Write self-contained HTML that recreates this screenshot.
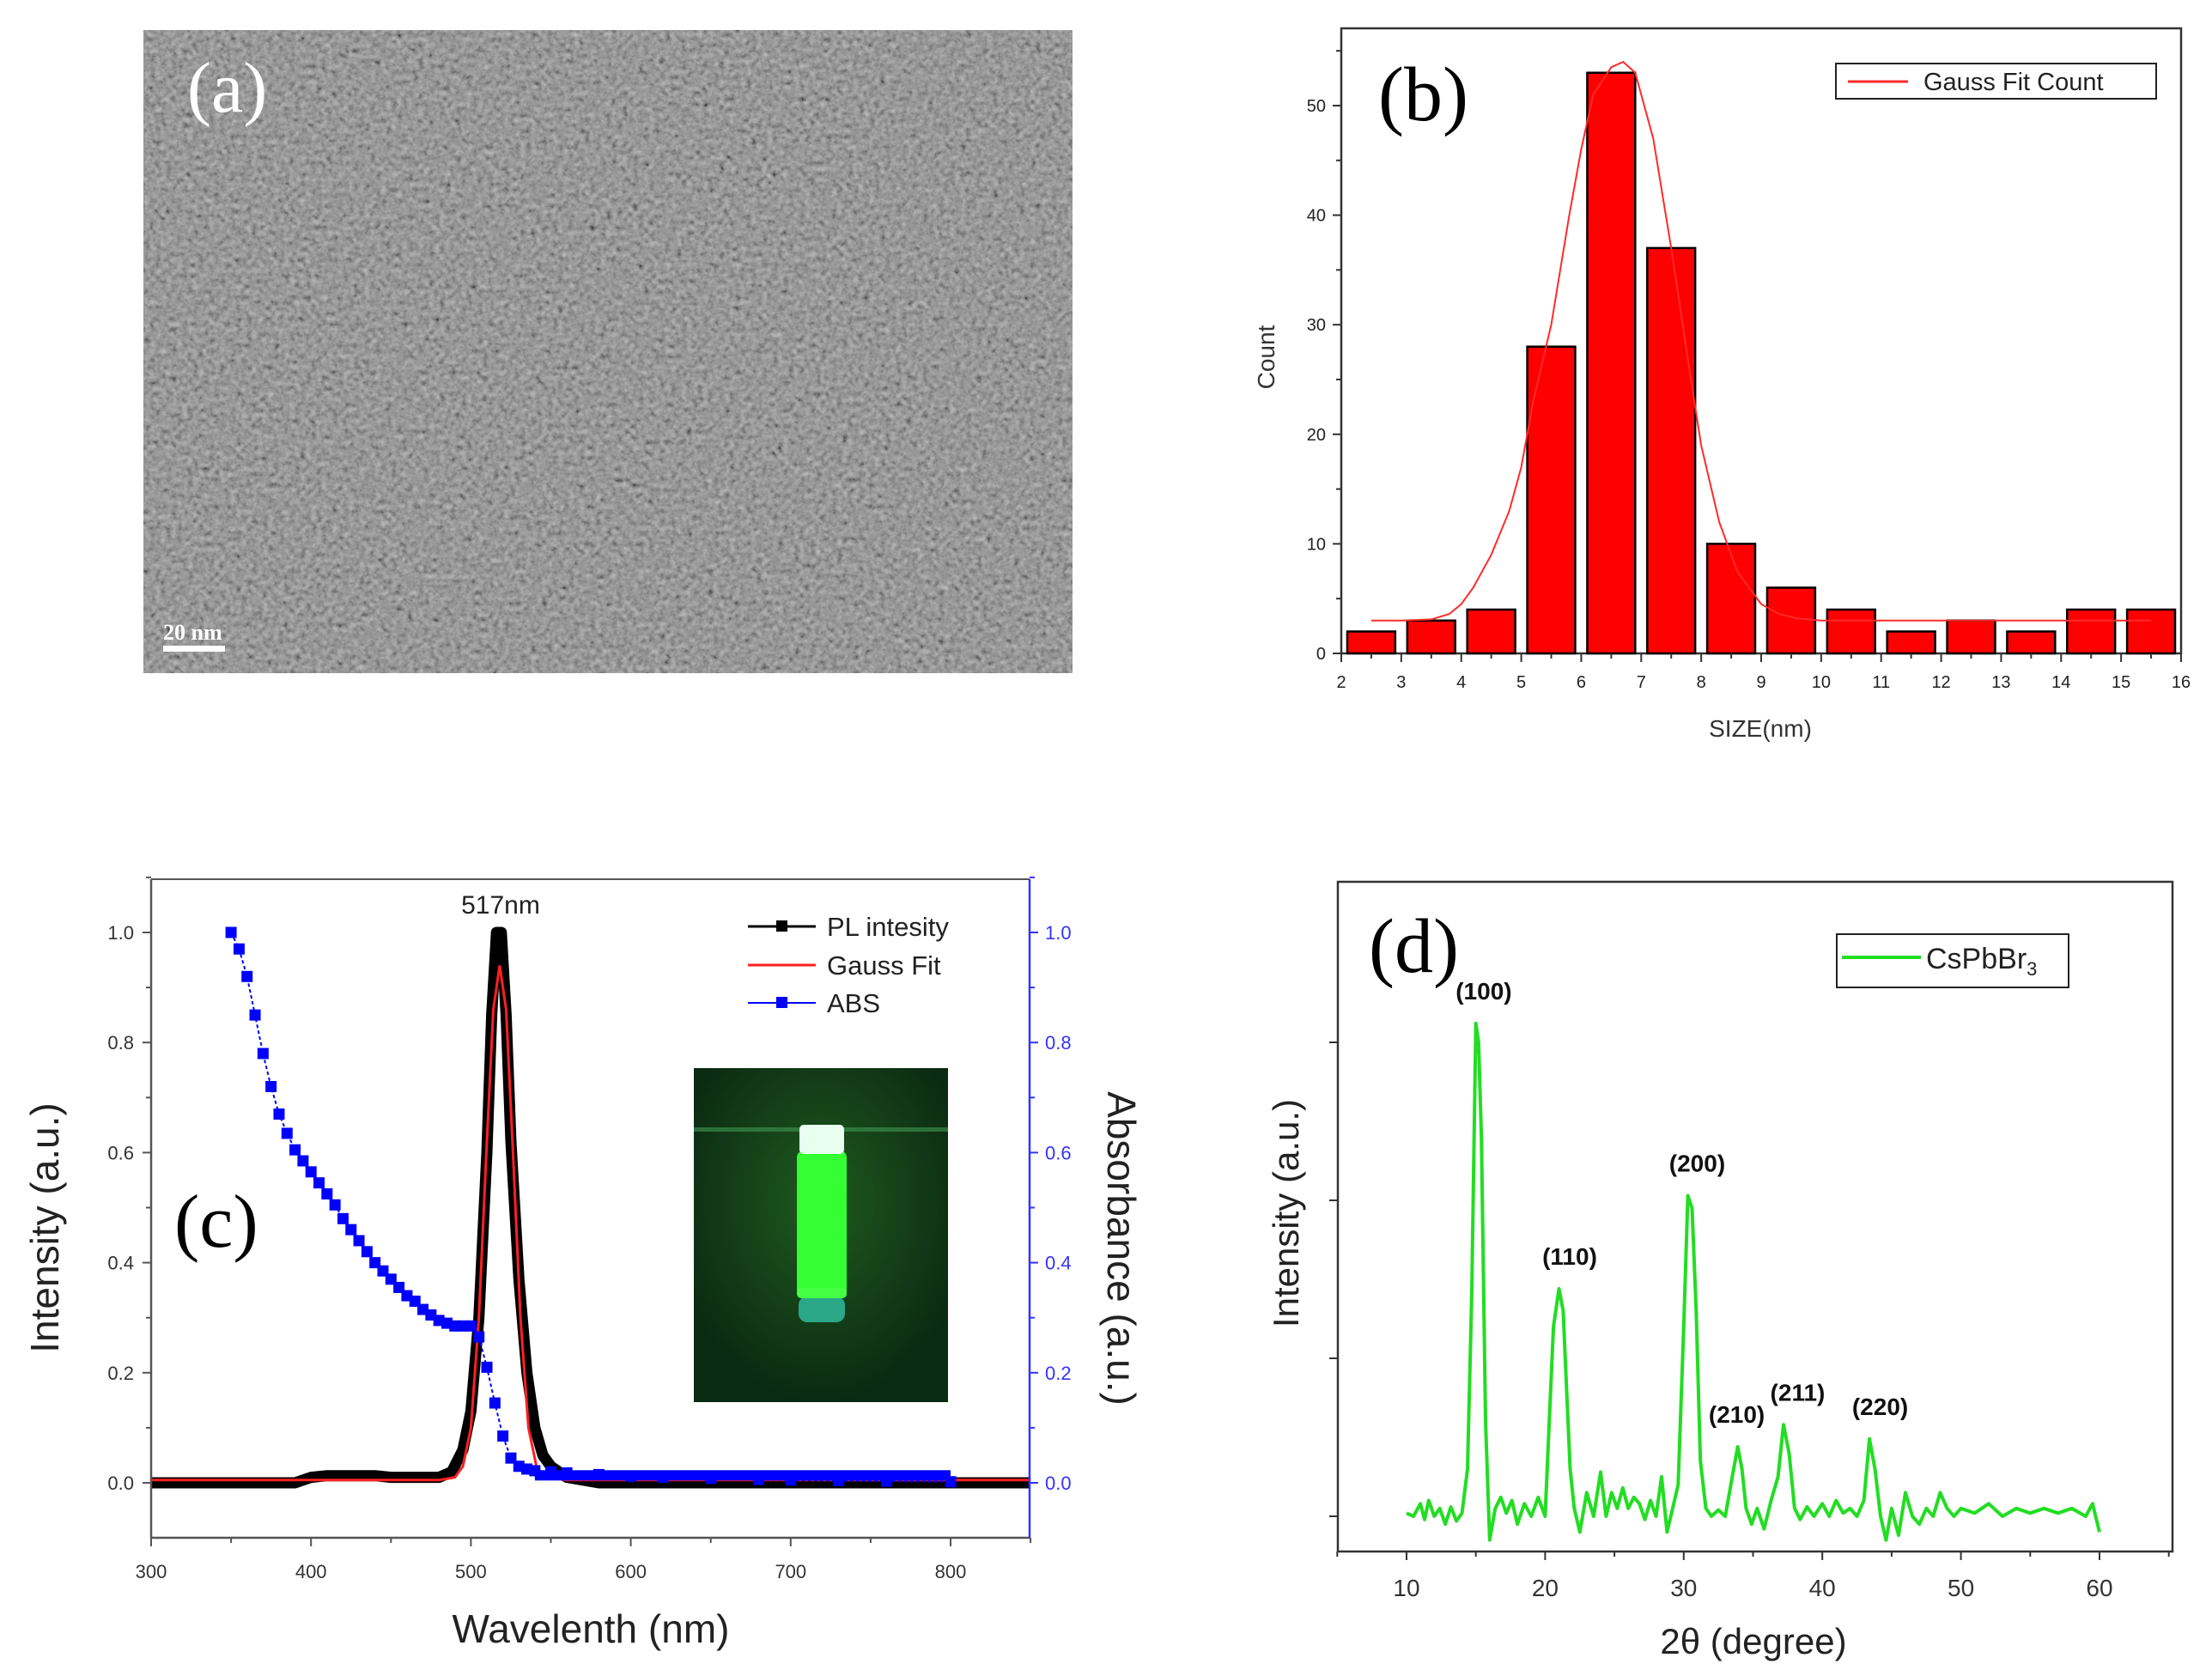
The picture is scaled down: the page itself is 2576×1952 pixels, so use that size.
<!DOCTYPE html>
<html><head><meta charset="utf-8">
<style>
html,body{margin:0;padding:0;background:#fff;overflow:hidden;}
svg{display:block;font-family:"Liberation Sans",sans-serif;}
</style></head>
<body>
<svg id="fig" width="2576" height="1952" viewBox="0 0 2576 1952" xmlns="http://www.w3.org/2000/svg">
<defs>
<filter id="tem" x="0" y="0" width="100%" height="100%">
<feTurbulence type="fractalNoise" baseFrequency="0.16" numOctaves="3" seed="4"/>
<feColorMatrix type="matrix" values="0.33 0.33 0.33 0 0  0.33 0.33 0.33 0 0  0.33 0.33 0.33 0 0  0 0 0 0 1"/>
<feComponentTransfer><feFuncR type="linear" slope="1.8" intercept="-0.4"/><feFuncG type="linear" slope="1.8" intercept="-0.4"/><feFuncB type="linear" slope="1.8" intercept="-0.4"/></feComponentTransfer>
</filter>
<radialGradient id="glow" cx="50%" cy="40%" r="60%"><stop offset="0" stop-color="#1f5a1f"/><stop offset="1" stop-color="#0b2a12"/></radialGradient>
</defs>
<g id="panel-a">
<rect x="167" y="35" width="1082" height="749" fill="#767676"/>
<rect x="167" y="35" width="1082" height="749" filter="url(#tem)" opacity="0.5"/>
<text x="218" y="130" font-family="Liberation Serif,serif" font-size="84" fill="#fff">(a)</text>
<text x="190" y="745" font-family="Liberation Serif,serif" font-size="26" font-weight="bold" fill="#fff">20 nm</text>
<rect x="190" y="752" width="72" height="7" fill="#fff"/>
</g>
<g id="gb"></g><g id="gc"></g><g id="gd"></g>
</svg>
<script>
// ---- panel b data ----
const binStarts=[2,3,4,5,6,7,8,9,10,11,12,13,14,15];
const counts=[2,3,4,28,53,37,10,6,4,2,3,2,4,4];
const fitX=[2.5,3,3.5,3.8,4,4.2,4.5,4.8,5,5.2,5.5,5.8,6,6.2,6.5,6.7,6.9,7.2,7.5,7.8,8,8.3,8.6,9,9.3,9.6,10,11,12,13,14,15,15.5];
const fitY=[3,3,3.1,3.6,4.5,6,9,13,17,23,30,40,46,51,53.5,54,53,47,37,26,19,12,7.5,4.5,3.6,3.2,3,3,3,3,3,3,3];
const bXTicks=[2,3,4,5,6,7,8,9,10,11,12,13,14,15,16];
const bYTicks=[0,10,20,30,40,50];
// ---- panel c data ----
const plX=[300,390,400,410,440,450,480,488,495,500,505,510,513,516,519,522,525,530,535,540,545,550,560,580,850];
const plY=[0,0,0.01,0.013,0.013,0.01,0.01,0.02,0.06,0.13,0.3,0.6,0.85,1.0,1.0,0.85,0.62,0.37,0.2,0.1,0.05,0.03,0.01,0,0];
const gfX=[300,480,490,495,500,505,510,514,518,522,526,531,536,541,546,560,850];
const gfY=[0.005,0.005,0.01,0.03,0.1,0.3,0.62,0.86,0.94,0.86,0.62,0.3,0.1,0.03,0.01,0.005,0.005];
const absX=[350,355,360,365,370,375,380,385,390,395,400,405,410,415,420,425,430,435,440,445,450,455,460,465,470,475,480,485,490,495,500,505,510,515,520,525,530,535,540,550,560,580,600,620,650,680,700,730,760,800];
const absY=[1.0,0.97,0.92,0.85,0.78,0.72,0.67,0.635,0.605,0.585,0.565,0.545,0.525,0.505,0.48,0.46,0.44,0.42,0.40,0.385,0.37,0.355,0.34,0.33,0.315,0.305,0.295,0.29,0.285,0.285,0.285,0.265,0.21,0.145,0.085,0.045,0.03,0.025,0.022,0.02,0.018,0.015,0.012,0.01,0.008,0.006,0.005,0.004,0.003,0.002];
const cXTicks=[300,400,500,600,700,800];
const cYTicks=[0.0,0.2,0.4,0.6,0.8,1.0];
// ---- panel d data ----
const xrdX=[10,10.5,11,11.3,11.6,12,12.4,12.8,13.2,13.6,14,14.4,14.7,15,15.2,15.4,15.7,16,16.4,16.8,17.2,17.6,18,18.5,19,19.5,20,20.3,20.6,21,21.3,21.5,21.8,22.1,22.5,23,23.5,24,24.4,24.8,25.2,25.6,26,26.4,26.8,27.2,27.6,28,28.4,28.8,29.2,29.6,30,30.3,30.6,30.9,31.2,31.6,32,32.5,33,33.5,33.9,34.2,34.5,34.9,35.3,35.8,36.3,36.8,37.2,37.6,38,38.4,38.9,39.4,40,40.5,41,41.5,42,42.5,43,43.4,43.8,44.2,44.6,45,45.5,46,46.5,47,47.5,48,48.5,49,49.5,50,51,52,53,54,55,56,57,58,59,59.5,60];
const xrdY=[0.02,0.0,0.08,-0.02,0.1,0.0,0.05,-0.05,0.06,-0.03,0.02,0.3,1.4,3.12,3.0,2.4,0.6,-0.15,0.05,0.12,0.02,0.1,-0.05,0.08,0.0,0.12,0.0,0.6,1.2,1.44,1.3,0.9,0.3,0.05,-0.1,0.15,0.0,0.28,0.0,0.15,0.05,0.18,0.05,0.12,0.08,-0.02,0.1,0.0,0.25,-0.1,0.05,0.2,1.2,2.03,1.95,1.3,0.35,0.05,0.0,0.04,0.0,0.25,0.44,0.3,0.05,-0.05,0.05,-0.08,0.1,0.25,0.58,0.4,0.05,-0.02,0.06,0.0,0.08,0.0,0.1,0.02,0.05,0.0,0.1,0.49,0.3,0.0,-0.15,0.05,-0.12,0.15,0.0,-0.05,0.05,0.0,0.15,0.05,0.0,0.05,0.02,0.08,0.0,0.05,0.02,0.05,0.02,0.05,0.0,0.08,-0.1];
const dXTicks=[10,20,30,40,50,60];
const dYTicks=[0,1,2,3];
const peakLabels=["(100)","(110)","(200)","(210)","(211)","(220)"];
const peakPos=[15.2,21.4,30.6,34.2,37.6,43.8];
const peakH=[3.12,1.44,2.03,0.44,0.58,0.49];

const NS="http://www.w3.org/2000/svg";
function mk(parent,tag,attrs,name){
  const el=document.createElementNS(NS,tag);
  for(const k in attrs) el.setAttribute(k,attrs[k]);
  
  
  parent.appendChild(el); return el;
}
function txt(parent,x,y,s,size,attrs,name){
  const a=Object.assign({x:x,y:y,'font-size':size},attrs||{});
  const t=mk(parent,'text',a,name); t.textContent=s; return t;
}
function pathOf(xs,ys,sx,sy){return xs.map((v,i)=>(i?'L':'M')+sx(v).toFixed(1)+' '+sy(ys[i]).toFixed(1)).join(' ');}

// ===== Panel b =====
(function(){
  const g=document.getElementById('gb');
  const L=1562,R=2540,T=33,B=761;
  const sx=v=>L+(v-2)/14*(R-L), sy=v=>B-v*12.76;
  mk(g,'rect',{x:L,y:T,width:R-L,height:B-T,fill:'none',stroke:'#333','stroke-width':2.5},'plot-frame-b');
  binStarts.forEach((b,i)=>{
    mk(g,'rect',{x:sx(b+0.1),y:sy(counts[i]),width:sx(b+0.9)-sx(b+0.1),height:B-sy(counts[i]),fill:'#ff0000',stroke:'#000','stroke-width':2.5},'histogram-bar');
  });
  mk(g,'path',{d:pathOf(fitX,fitY,sx,sy),fill:'none',stroke:'#ff2a2a','stroke-width':2},'gauss-fit-line');
  bXTicks.forEach(v=>{
    mk(g,'line',{x1:sx(v),y1:B,x2:sx(v),y2:B+10,stroke:'#333','stroke-width':2},'x-tick');
    if(v<16) mk(g,'line',{x1:sx(v+0.5),y1:B,x2:sx(v+0.5),y2:B+6,stroke:'#333','stroke-width':2},'x-minor-tick');
    txt(g,sx(v),B+40,String(v),20,{'text-anchor':'middle',fill:'#222'},'x-tick-label');
  });
  bYTicks.forEach(v=>{
    mk(g,'line',{x1:L,y1:sy(v),x2:L-10,y2:sy(v),stroke:'#333','stroke-width':2},'y-tick');
    mk(g,'line',{x1:L,y1:sy(v+5),x2:L-6,y2:sy(v+5),stroke:'#333','stroke-width':2},'y-minor-tick');
    txt(g,L-18,sy(v)+7,String(v),20,{'text-anchor':'end',fill:'#222'},'y-tick-label');
  });
  txt(g,1605,140,'(b)',90,{'font-family':'Liberation Serif,serif'},'panel-label-b');
  txt(g,2050,858,'SIZE(nm)',28,{'text-anchor':'middle',fill:'#333'},'x-axis-title');
  txt(g,1484,416,'Count',28,{'text-anchor':'middle',fill:'#333',transform:'rotate(-90 1484 416)'},'y-axis-title');
  mk(g,'rect',{x:2138,y:74,width:373,height:41,fill:'#fff',stroke:'#222','stroke-width':2},'legend-box');
  mk(g,'line',{x1:2152,y1:95,x2:2222,y2:95,stroke:'#ff2a2a','stroke-width':3},'legend-line');
  txt(g,2240,105,'Gauss Fit Count',29,{fill:'#222'},'legend-label');
})();

// ===== Panel c =====
(function(){
  const g=document.getElementById('gc');
  const L=176,R=1199,T=1024,B=1791;
  const sx=v=>L+(v-300)*1.862, sy=v=>1727-v*641;
  mk(g,'rect',{x:808,y:1244,width:296,height:389,fill:'url(#glow)'},'inset-photo');
  mk(g,'rect',{x:808,y:1313,width:296,height:5,fill:'#3a8a4a',opacity:0.7},'inset-meniscus');
  mk(g,'rect',{x:928,y:1340,width:58,height:170,rx:8,fill:'#33ff33'},'inset-vial');
  mk(g,'rect',{x:931,y:1310,width:52,height:34,rx:5,fill:'#e8fff0'},'inset-cap');
  mk(g,'rect',{x:930,y:1510,width:54,height:30,rx:10,fill:'#2aa888'},'inset-vial-bottom');
  mk(g,'rect',{x:928,y:1500,width:58,height:12,rx:5,fill:'#44ff44'},'inset-vial-ring');
  mk(g,'path',{d:pathOf(plX,plY,sx,sy),fill:'none',stroke:'#000','stroke-width':13,'stroke-linejoin':'round'},'pl-intensity-line');
  mk(g,'path',{d:pathOf(gfX,gfY,sx,sy),fill:'none',stroke:'#ff2020','stroke-width':3},'gauss-fit-line');
  mk(g,'path',{d:pathOf(absX,absY,sx,sy),fill:'none',stroke:'#0000ff','stroke-width':2,'stroke-dasharray':'4 3'},'abs-line');
  absX.forEach((v,i)=>{
    mk(g,'rect',{x:sx(v)-6.5,y:sy(absY[i])-6.5,width:13,height:13,fill:'#0000ff'},'abs-marker');
  });
  mk(g,'rect',{x:sx(540),y:sy(0.012)-7,width:sx(800)-sx(540),height:12,fill:'#0000ff'},'abs-dense-markers');
  mk(g,'line',{x1:L,y1:T,x2:R,y2:T,stroke:'#555','stroke-width':2},'top-axis');
  mk(g,'line',{x1:L,y1:T,x2:L,y2:B,stroke:'#555','stroke-width':2.5},'left-axis');
  mk(g,'line',{x1:L,y1:B,x2:R,y2:B,stroke:'#555','stroke-width':2.5},'bottom-axis');
  mk(g,'line',{x1:R,y1:T,x2:R,y2:B,stroke:'#3333ff','stroke-width':2.5},'right-axis');
  cXTicks.forEach(v=>{
    mk(g,'line',{x1:sx(v),y1:B,x2:sx(v),y2:B+10,stroke:'#555','stroke-width':2},'x-tick');
    mk(g,'line',{x1:sx(v+50),y1:B,x2:sx(v+50),y2:B+6,stroke:'#555','stroke-width':2},'x-minor-tick');
    txt(g,sx(v),B+47,String(v),22,{'text-anchor':'middle',fill:'#333'},'x-tick-label');
  });
  cYTicks.forEach(v=>{
    mk(g,'line',{x1:L,y1:sy(v),x2:L-10,y2:sy(v),stroke:'#555','stroke-width':2},'y-tick');
    mk(g,'line',{x1:L,y1:sy(v+0.1),x2:L-6,y2:sy(v+0.1),stroke:'#555','stroke-width':2},'y-minor-tick');
    txt(g,L-20,sy(v)+8,v.toFixed(1),22,{'text-anchor':'end',fill:'#333'},'y-tick-label');
    mk(g,'line',{x1:R,y1:sy(v),x2:R+10,y2:sy(v),stroke:'#3333ff','stroke-width':2},'y2-tick');
    mk(g,'line',{x1:R,y1:sy(v+0.1),x2:R+6,y2:sy(v+0.1),stroke:'#3333ff','stroke-width':2},'y2-minor-tick');
    txt(g,R+18,sy(v)+8,v.toFixed(1),22,{fill:'#3333ff'},'y2-tick-label');
  });
  txt(g,688,1913,'Wavelenth (nm)',46,{'text-anchor':'middle',fill:'#222'},'x-axis-title');
  txt(g,68,1430,'Intensity (a.u.)',46,{'text-anchor':'middle',fill:'#222',transform:'rotate(-90 68 1430)'},'y-axis-title');
  txt(g,1290,1454,'Absorbance (a.u.)',46,{'text-anchor':'middle',fill:'#222',transform:'rotate(90 1290 1454)'},'y2-axis-title');
  txt(g,583,1064,'517nm',30,{'text-anchor':'middle',fill:'#222'},'peak-label');
  txt(g,203,1452,'(c)',88,{'font-family':'Liberation Serif,serif'},'panel-label-c');
  mk(g,'line',{x1:871,y1:1079,x2:950,y2:1079,stroke:'#000','stroke-width':3},'legend-pl-line');
  mk(g,'rect',{x:904,y:1072,width:13,height:13,fill:'#000'},'legend-pl-marker');
  txt(g,963,1090,'PL intesity',31,{fill:'#222'},'legend-pl-label');
  mk(g,'line',{x1:871,y1:1124,x2:950,y2:1124,stroke:'#ff2020','stroke-width':3},'legend-fit-line');
  txt(g,963,1135,'Gauss Fit',31,{fill:'#222'},'legend-fit-label');
  mk(g,'line',{x1:871,y1:1168,x2:950,y2:1168,stroke:'#0000ff','stroke-width':2},'legend-abs-line');
  mk(g,'rect',{x:904,y:1161,width:13,height:13,fill:'#0000ff'},'legend-abs-marker');
  txt(g,963,1179,'ABS',31,{fill:'#222'},'legend-abs-label');
})();

// ===== Panel d =====
(function(){
  const g=document.getElementById('gd');
  const L=1558,R=2530,T=1027,B=1807;
  const sx=v=>1638+(v-10)*16.14, sy=v=>1766-v*184;
  mk(g,'rect',{x:L,y:T,width:R-L,height:B-T,fill:'none',stroke:'#333','stroke-width':2.5},'plot-frame-d');
  mk(g,'path',{d:pathOf(xrdX,xrdY,sx,sy),fill:'none',stroke:'#22dd22','stroke-width':4,'stroke-linejoin':'round'},'xrd-line');
  dXTicks.forEach(v=>{
    mk(g,'line',{x1:sx(v),y1:B,x2:sx(v),y2:B+10,stroke:'#333','stroke-width':2},'x-tick');
    txt(g,sx(v),B+52,String(v),28,{'text-anchor':'middle',fill:'#333'},'x-tick-label');
  });
  [5,15,25,35,45,55,65].forEach(v=>{
    mk(g,'line',{x1:sx(v),y1:B,x2:sx(v),y2:B+6,stroke:'#333','stroke-width':2},'x-minor-tick');
  });
  dYTicks.forEach(v=>{
    mk(g,'line',{x1:L,y1:sy(v),x2:L-10,y2:sy(v),stroke:'#333','stroke-width':2},'y-tick');
  });
  peakLabels.forEach((s,i)=>{
    txt(g,sx(peakPos[i])+(i===3?-6:i===4?10:6),sy(peakH[i])-28,s,28,{'text-anchor':'middle','font-weight':'bold',fill:'#111'},'peak-label');
  });
  txt(g,2042,1926,'2θ (degree)',42,{'text-anchor':'middle',fill:'#222'},'x-axis-title');
  txt(g,1512,1413,'Intensity (a.u.)',42,{'text-anchor':'middle',fill:'#222',transform:'rotate(-90 1512 1413)'},'y-axis-title');
  txt(g,1594,1132,'(d)',90,{'font-family':'Liberation Serif,serif'},'panel-label-d');
  mk(g,'rect',{x:2139,y:1088,width:270,height:62,fill:'#fff',stroke:'#222','stroke-width':2},'legend-box');
  mk(g,'line',{x1:2145,y1:1115,x2:2237,y2:1115,stroke:'#22dd22','stroke-width':4},'legend-line');
  const t=txt(g,2243,1128,'CsPbBr',34,{fill:'#222'},'legend-label');
  const sub=document.createElementNS(NS,'tspan');
  
  
  sub.setAttribute('font-size','22'); sub.setAttribute('dy','8'); sub.textContent='3'; t.appendChild(sub);
})();
</script>
</body></html>
